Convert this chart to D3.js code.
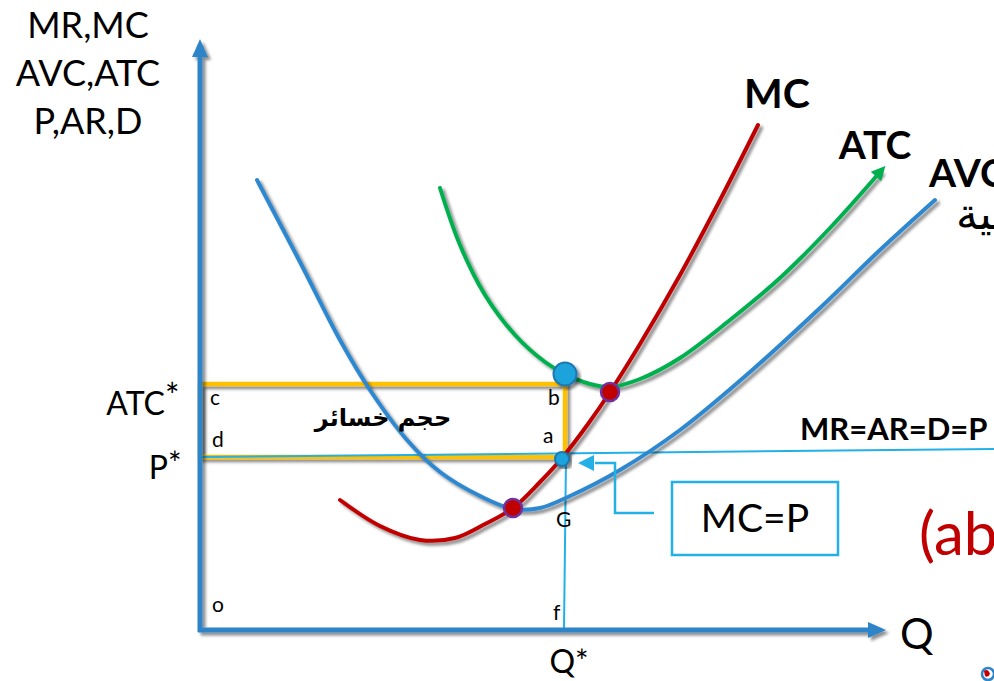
<!DOCTYPE html>
<html>
<head>
<meta charset="utf-8">
<script src="https://cdn.jsdelivr.net/npm/d3@7"></script>
<style>
  body { margin: 0; background: #fff; }
  text { font-family: Lato, "Open Sans", sans-serif; }
</style>
</head>
<body>
<div id="chart"></div>
<script>
// curves, [Q, cost]
var mcData = [[2.8,2.6],[3.6,2.08],[4.4,1.8],[5.1,1.84],[5.7,2.12],[6.26,2.44],[6.8,2.96],[7.24,3.44],[7.76,4.12],[8.2,4.76],[8.8,5.72],[9.6,7.1],[10.4,8.6],[11.16,10.1]]
var avcData = [[1.14,9.0],[2.0,7.36],[2.8,5.8],[3.4,4.8],[4.14,3.8],[4.8,3.16],[5.6,2.68],[6.26,2.42],[6.8,2.44],[7.4,2.68],[8.4,3.2],[9.6,4.0],[11.0,5.16],[12.4,6.44],[13.6,7.6],[14.7,8.6]]
var atcData = [[4.8,8.84],[5.2,7.7],[5.7,6.7],[6.3,5.9],[6.9,5.36],[7.3,5.12],[7.8,4.92],[8.2,4.86],[8.8,5.02],[9.6,5.44],[10.6,6.2],[11.6,7.04],[12.6,8.04],[13.6,9.16]]
var priceLine = [[0,3.46],[15.9,3.62]]
var qStar = 7.3
var atcStar = 4.92
var pStar = 3.46
var dots = [
  {q: 7.3, v: 5.12, r: 11.5, kind: "atc"},
  {q: 8.2, v: 4.76, r: 9, kind: "cross"},
  {q: 6.26, v: 2.44, r: 9, kind: "cross"},
  {q: 7.24, v: 3.42, r: 7, kind: "mcp"}
]
var yLabels = ["MR,MC", "AVC,ATC", "P,AR,D"]
var cornerLetters = [["c",0.2,4.5],["d",0.24,3.66],["b",6.96,4.5],["a",6.86,3.74],["G",7.12,2.06],["o",0.24,0.36],["f",7.06,0.2]]

var width = 994, height = 681
var xscale = d3.scaleLinear().domain([0,14]).range([200,900])
var yscale = d3.scaleLinear().domain([0,12]).range([630,30])

var blue = "#2E84C8", red = "#C00000", green = "#00B050", orange = "#FFC000", cyan = "#22B0E6"

var svg = d3.select("#chart").append("svg")
    .attr("width", width)
    .attr("height", height)

var defs = svg.append("defs")
var f = defs.append("filter").attr("id","shadow")
    .attr("x","-20%").attr("y","-20%").attr("width","140%").attr("height","140%")
f.append("feDropShadow")
    .attr("dx",3).attr("dy",3).attr("stdDeviation",1.8)
    .attr("flood-color","#000").attr("flood-opacity",0.45)

var line = d3.line()
    .x(function(d){ return xscale(d[0]) })
    .y(function(d){ return yscale(d[1]) })
    .curve(d3.curveCatmullRom.alpha(0.5))

// orange loss box
svg.append("rect")
    .attr("x", xscale(0))
    .attr("y", yscale(atcStar))
    .attr("width", xscale(qStar) - xscale(0))
    .attr("height", yscale(pStar) - yscale(atcStar))
    .attr("fill","none")
    .attr("stroke", orange)
    .attr("stroke-width", 4.5)
    .attr("filter","url(#shadow)")

// price line and Q* drop line
svg.append("path")
    .attr("d", d3.line().x(d => xscale(d[0])).y(d => yscale(d[1]))(priceLine))
    .attr("stroke", cyan).attr("stroke-width", 2).attr("fill","none")
svg.append("line")
    .attr("x1", xscale(qStar)+1).attr("y1", yscale(pStar))
    .attr("x2", xscale(qStar)-1).attr("y2", yscale(0))
    .attr("stroke", cyan).attr("stroke-width", 2)

// axes
var axisG = svg.append("g").attr("filter","url(#shadow)")
axisG.append("line")
    .attr("x1", xscale(0)).attr("y1", yscale(0)+2)
    .attr("x2", xscale(0)).attr("y2", yscale(11.5))
    .attr("stroke", blue).attr("stroke-width", 5)
axisG.append("path")
    .attr("d", "M" + (xscale(0)-8) + "," + (yscale(11.5)+2) + "L" + xscale(0) + "," + (yscale(11.5)-16) + "L" + (xscale(0)+8) + "," + (yscale(11.5)+2) + "Z")
    .attr("fill", blue)
axisG.append("line")
    .attr("x1", xscale(0)-2).attr("y1", yscale(0))
    .attr("x2", xscale(13.4)).attr("y2", yscale(0))
    .attr("stroke", blue).attr("stroke-width", 5)
axisG.append("path")
    .attr("d", "M" + (xscale(13.4)-2) + "," + (yscale(0)-8) + "L" + (xscale(13.4)+16) + "," + yscale(0) + "L" + (xscale(13.4)-2) + "," + (yscale(0)+8) + "Z")
    .attr("fill", blue)

// cost curves
var curves = [
  {data: mcData, color: red},
  {data: avcData, color: "#2F88D0"},
  {data: atcData, color: green}
]
svg.append("g").attr("filter","url(#shadow)")
  .selectAll("path")
  .data(curves)
  .join("path")
    .attr("d", d => line(d.data))
    .attr("fill","none")
    .attr("stroke", d => d.color)
    .attr("stroke-width", 4)
    .attr("stroke-linecap","round")

// green arrow head on ATC
var last = atcData[atcData.length-1], prev = atcData[atcData.length-2]
var ang = Math.atan2(yscale(last[1]) - yscale(prev[1]), xscale(last[0]) - xscale(prev[0])) * 180 / Math.PI
svg.append("path")
    .attr("d", "M-6,-7 L8,0 L-6,7 Z")
    .attr("transform", "translate(" + xscale(last[0]) + "," + yscale(last[1]) + ") rotate(" + ang + ")")
    .attr("fill", green)

// dots
svg.selectAll("circle.pt")
  .data(dots)
  .join("circle")
    .attr("class","pt")
    .attr("cx", d => xscale(d.q))
    .attr("cy", d => yscale(d.v))
    .attr("r", d => d.r)
    .attr("fill", d => d.kind == "cross" ? "#C00000" : "#1FA3DC")
    .attr("stroke", d => d.kind == "cross" ? "#7030A0" : "#1A78B0")
    .attr("stroke-width", d => d.kind == "cross" ? 2.5 : 2)
    .attr("filter", d => d.kind == "cross" ? null : "url(#shadow)")

// MC=P callout
var bx = xscale(9.44), by = yscale(2.96)
svg.append("rect")
    .attr("x", bx).attr("y", by)
    .attr("width", 166).attr("height", 73)
    .attr("fill","#fff").attr("stroke", cyan).attr("stroke-width", 2.5)
svg.append("text")
    .attr("x", bx + 83).attr("y", by + 50)
    .attr("text-anchor","middle")
    .attr("font-size", "39px")
    .text("MC=P")
svg.append("path")
    .attr("d", "M" + xscale(9.08) + "," + yscale(2.34) + "H" + xscale(8.3) + "V" + yscale(3.34) + "H" + xscale(7.9))
    .attr("fill","none").attr("stroke", cyan).attr("stroke-width", 2.5)
svg.append("path")
    .attr("d", "M" + xscale(7.56) + "," + yscale(3.34) + "l16,-8 l0,16 Z")
    .attr("fill", cyan)

// y axis title
svg.selectAll("text.ylab")
  .data(yLabels)
  .join("text")
    .attr("class","ylab")
    .attr("x", 88)
    .attr("y", (d,i) => 38 + i*48)
    .attr("text-anchor","middle")
    .attr("font-size","36px")
    .text(d => d)

// level labels
var atcLab = svg.append("text").attr("x", 165).attr("y", yscale(atcStar)+31).attr("text-anchor","end")
    .attr("font-size","32px").text("ATC")
svg.append("text").attr("x", 165).attr("y", yscale(atcStar)+24)
    .attr("font-size","34px").text("*")
svg.append("text").attr("x", 168).attr("y", yscale(pStar)+22).attr("text-anchor","end")
    .attr("font-size","32px").text("P")
svg.append("text").attr("x", 168).attr("y", yscale(pStar)+18)
    .attr("font-size","32px").text("*")
svg.append("text").attr("x", xscale(qStar)+4).attr("y", 673).attr("text-anchor","middle")
    .attr("font-size","32px").text("Q*")
svg.append("text").attr("x", xscale(14)).attr("y", yscale(0)+19)
    .attr("font-size","42px").text("Q")

svg.selectAll("text.corner")
  .data(cornerLetters)
  .join("text")
    .attr("class","corner")
    .attr("x", d => xscale(d[1]))
    .attr("y", d => yscale(d[2]))
    .attr("font-size","21px")
    .text(d => d[0])

// curve names
svg.append("text").attr("x", 777).attr("y", 108).attr("text-anchor","middle")
    .attr("font-size","41px").attr("font-weight","bold").text("MC")
svg.append("text").attr("x", 875).attr("y", 159).attr("text-anchor","middle")
    .attr("font-size","39px").attr("font-weight","bold").text("ATC")
svg.append("text").attr("x", 929).attr("y", 187)
    .attr("font-size","39px").attr("font-weight","bold").text("AVC")
svg.append("text").attr("x", 956).attr("y", 229)
    .style("font-family","'DejaVu Sans'")
    .attr("font-size","44px").text("تنافسية")
svg.append("text").attr("x", 800).attr("y", 440)
    .attr("font-size","31px").attr("font-weight","bold").text("MR=AR=D=P")
svg.append("text").attr("x", 383).attr("y", 426).attr("text-anchor","middle")
    .style("font-family","'DejaVu Sans'")
    .attr("font-size","24px").attr("font-weight","bold").text("حجم خسائر")
svg.append("text").attr("x", 919).attr("y", 555)
    .attr("font-size","60px").attr("fill", red).text("(abcd)")

// small logo in the corner
svg.append("circle").attr("cx", 988).attr("cy", 674).attr("r", 6)
    .attr("fill","none").attr("stroke","#2E84C8").attr("stroke-width",2.5)
svg.append("path").attr("d","M984,671 q4,-3 6,3 q-2,4 -5,2 Z").attr("fill", red)
</script>
</body>
</html>
